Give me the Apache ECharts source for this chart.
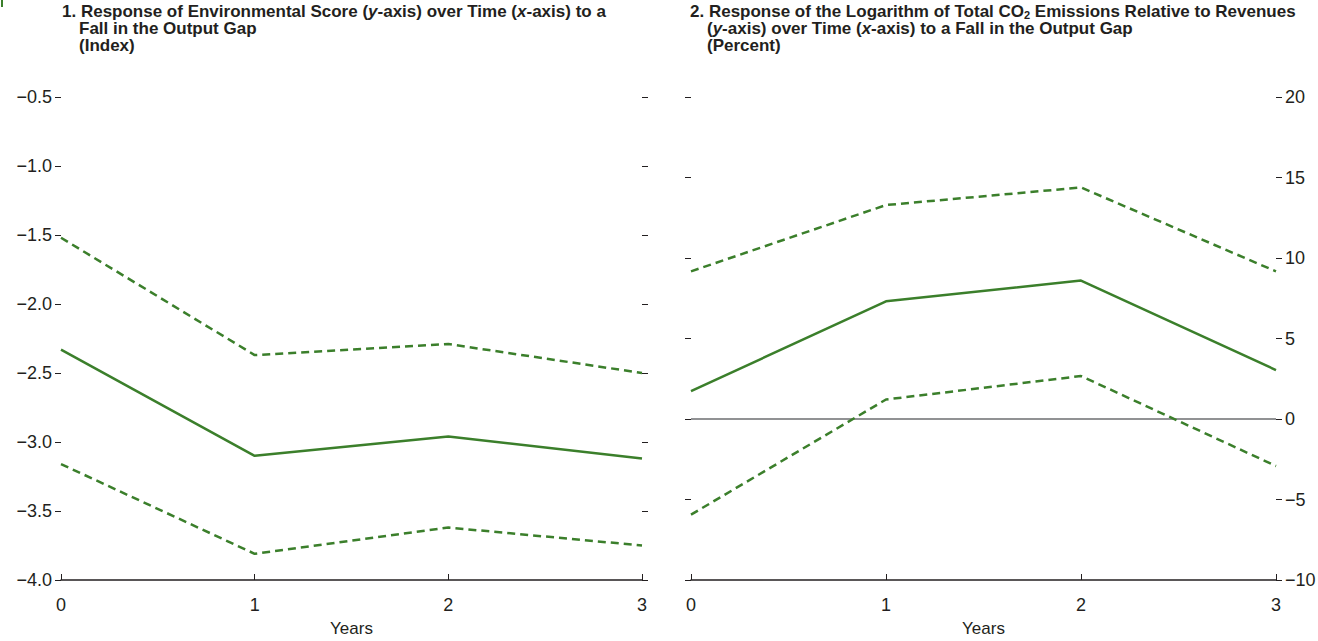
<!DOCTYPE html>
<html>
<head>
<meta charset="utf-8">
<script src="https://cdn.jsdelivr.net/npm/echarts@6/dist/echarts.min.js"></script>
<style>
  html, body { margin: 0; padding: 0; background: #fff; }
  #chartContainer { width: 1318px; height: 641px; }
</style>
</head>
<body>
<div id="chartContainer"></div>
<script>
// years after the shock
const years = ['0', '1', '2', '3'];

// panel 1: environmental score (index)
const envScore = [-2.33, -3.10, -2.96, -3.12];
const envUpper = [-1.52, -2.37, -2.29, -2.50];
const envLower = [-3.16, -3.81, -3.62, -3.75];

// panel 2: log of total CO2 emissions relative to revenues (percent)
const co2 = [1.73, 7.31, 8.60, 3.04];
const co2Upper = [9.17, 13.29, 14.38, 9.17];
const co2Lower = [-5.94, 1.21, 2.67, -2.92];

const GREEN = '#3b7f2b';
const INK = '#231f20';
const FONT = '"Liberation Sans Narrow", "Liberation Sans", Arial, sans-serif';

var myChart = echarts.init(document.getElementById('chartContainer'), null, { renderer: 'svg' });

function minus(s) {
    return String(s).replace('-', '\u2212');
}

function titleLine(text, left, top) {
    return {
        text: text,
        left: left,
        top: top,
        padding: 0,
        textStyle: {
            fontFamily: FONT,
            fontSize: 17,
            fontWeight: 'bold',
            color: INK,
            lineHeight: 17,
            rich: {
                i: { fontFamily: FONT, fontSize: 17, fontWeight: 'bold', fontStyle: 'italic', color: INK },
                sub: { fontFamily: FONT, fontSize: 11, fontWeight: 'bold', color: INK, verticalAlign: 'bottom', lineHeight: 10, padding: [6, 0, 0, 0] }
            }
        }
    };
}

function xAxis(grid) {
    return {
        type: 'category',
        gridIndex: grid,
        data: years,
        boundaryGap: false,
        name: 'Years',
        nameLocation: 'middle',
        nameGap: 40,
        nameTextStyle: { fontFamily: FONT, fontSize: 17, color: INK },
        axisLine: { onZero: false, lineStyle: { color: INK, width: 1.5 } },
        axisTick: { inside: true, length: 6, lineStyle: { color: INK, width: 1 } },
        axisLabel: { fontFamily: FONT, fontSize: 18, color: INK, margin: 16 },
        splitLine: { show: false }
    };
}

function yAxis(grid, pos, min, max, step, labels, fmt) {
    return {
        type: 'value',
        gridIndex: grid,
        position: pos,
        min: min,
        max: max,
        interval: step,
        axisLine: { show: false, onZero: false },
        axisTick: { show: true, length: 6, lineStyle: { color: INK, width: 1 } },
        axisLabel: { show: labels, fontFamily: FONT, fontSize: 18, color: INK, margin: 9, formatter: fmt },
        splitLine: { show: false }
    };
}

function line(name, x, y, data, dashed) {
    return {
        name: name,
        type: 'line',
        xAxisIndex: x,
        yAxisIndex: y,
        data: data,
        symbol: 'none',
        silent: true,
        lineStyle: { color: GREEN, width: 2.5, type: dashed ? [8, 5] : 'solid' }
    };
}

let options = {
    animation: false,
    backgroundColor: '#fff',
    title: [
        titleLine('1. Response of Environmental Score ({i|y}-axis) over Time ({i|x}-axis) to a', 62, 3),
        titleLine('Fall in the Output Gap', 79, 20),
        titleLine('(Index)', 79, 37),
        titleLine('2. Response of the Logarithm of Total CO{sub|2} Emissions Relative to Revenues', 690, 3),
        titleLine('({i|y}-axis) over Time ({i|x}-axis) to a Fall in the Output Gap', 707, 20),
        titleLine('(Percent)', 707, 37)
    ],
    graphic: [{
        type: 'rect',
        shape: { x: 1, y: 0, width: 2, height: 7 },
        style: { fill: GREEN }
    }],
    grid: [
        { left: 61, right: 676, top: 97, bottom: 61, containLabel: false, outerBoundsMode: 'none' },
        { left: 691, right: 42, top: 97, bottom: 61, containLabel: false, outerBoundsMode: 'none' }
    ],
    xAxis: [xAxis(0), xAxis(1)],
    yAxis: [
        yAxis(0, 'left', -4, -0.5, 0.5, true, function (v) { return minus(v.toFixed(1)); }),
        yAxis(0, 'right', -4, -0.5, 0.5, false),
        yAxis(1, 'right', -10, 20, 5, true, function (v) { return minus(v); }),
        yAxis(1, 'left', -10, 20, 5, false)
    ],
    series: [
        line('Environmental score', 0, 0, envScore, false),
        line('Upper band', 0, 0, envUpper, true),
        line('Lower band', 0, 0, envLower, true),
        {
            name: 'CO2 emissions',
            type: 'line',
            xAxisIndex: 1,
            yAxisIndex: 2,
            data: co2,
            symbol: 'none',
            silent: true,
            z: 3,
            lineStyle: { color: GREEN, width: 2.5 },
            markLine: {
                silent: true,
                symbol: 'none',
                label: { show: false },
                lineStyle: { color: '#6d6e71', width: 1.5, type: 'solid' },
                data: [{ yAxis: 0 }],
                z: 1
            }
        },
        line('Upper band', 1, 2, co2Upper, true),
        line('Lower band', 1, 2, co2Lower, true)
    ]
};

myChart.setOption(options);
</script>
</body>
</html>
